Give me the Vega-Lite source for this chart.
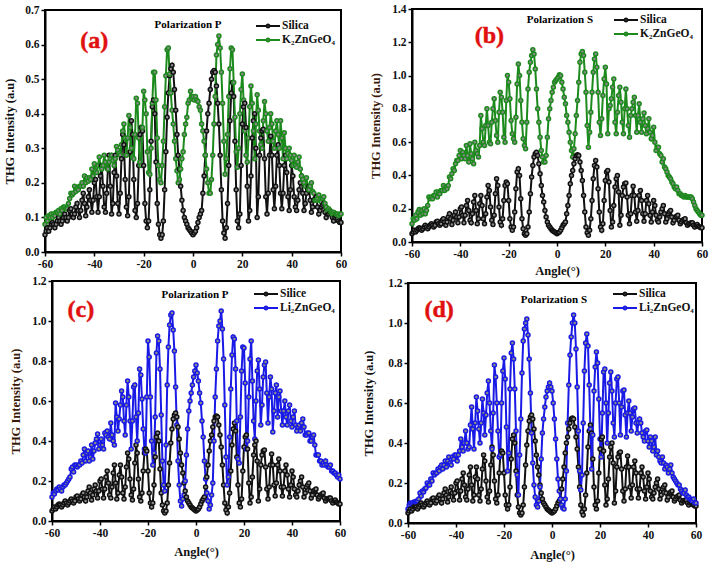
{"$schema":"https://vega.github.io/schema/vega-lite/v6.json","padding":0,"autosize":{"type":"pad"},"background":"white",
"config":{"font":"Liberation Serif","view":{"stroke":"black","strokeWidth":2},"axis":{"grid":false,"domainColor":"black","domainWidth":2,"tickColor":"black","tickWidth":1.5,"tickSize":4,"labelFont":"Liberation Serif","labelFontWeight":"bold","labelFontSize":11.5,"labelColor":"#111","titleFont":"Liberation Serif","titleFontWeight":"bold","titleFontSize":12.5,"titleColor":"#111","labelFlush":false,"labelOverlap":false},"legend":{"orient":"none","title":null,"padding":0,"labelFont":"Liberation Serif","labelFontWeight":"bold","labelFontSize":11.5,"labelColor":"#111","labelOffset":7,"symbolSize":144,"symbolStrokeWidth":2,"rowPadding":1,"symbolType":"M-2,0H-0.3M0.3,0H2M0.25,0A0.25,0.25,0,1,1,-0.25,0A0.25,0.25,0,1,1,0.25,0Z"}},
"datasets":{"d":[
{"a":-60,"s":0.05,"kp":0.08,"ks":0.11,"lp":0.12,"ls":0.07},{"a":-59.5,"s":0.06,"kp":0.1,"ks":0.14,"lp":0.14,"ls":0.09},{"a":-59,"s":0.07,"kp":0.09,"ks":0.13,"lp":0.135,"ls":0.1},{"a":-58.5,"s":0.06,"kp":0.105,"ks":0.16,"lp":0.15,"ls":0.095},{"a":-58,"s":0.07,"kp":0.1,"ks":0.14,"lp":0.16,"ls":0.1},{"a":-57.5,"s":0.08,"kp":0.11,"ks":0.18,"lp":0.155,"ls":0.105},{"a":-57,"s":0.085,"kp":0.1,"ks":0.195,"lp":0.17,"ls":0.105},{"a":-56.5,"s":0.08,"kp":0.11,"ks":0.16,"lp":0.16,"ls":0.11},{"a":-56,"s":0.07,"kp":0.105,"ks":0.19,"lp":0.15,"ls":0.11},{"a":-55.5,"s":0.08,"kp":0.115,"ks":0.17,"lp":0.17,"ls":0.12},
{"a":-55,"s":0.09,"kp":0.115,"ks":0.2,"lp":0.18,"ls":0.15},{"a":-54.5,"s":0.1,"kp":0.12,"ks":0.17,"lp":0.18,"ls":0.135},{"a":-54,"s":0.09,"kp":0.11,"ks":0.19,"lp":0.19,"ls":0.16},{"a":-53.5,"s":0.08,"kp":0.125,"ks":0.22,"lp":0.2,"ls":0.155},{"a":-53,"s":0.09,"kp":0.12,"ks":0.27,"lp":0.21,"ls":0.17},{"a":-52.5,"s":0.1,"kp":0.13,"ks":0.26,"lp":0.22,"ls":0.175},{"a":-52,"s":0.11,"kp":0.13,"ks":0.27,"lp":0.26,"ls":0.2},{"a":-51.5,"s":0.1,"kp":0.125,"ks":0.26,"lp":0.27,"ls":0.19},{"a":-51,"s":0.09,"kp":0.125,"ks":0.28,"lp":0.245,"ls":0.19},{"a":-50.5,"s":0.1,"kp":0.14,"ks":0.28,"lp":0.28,"ls":0.22},
{"a":-50,"s":0.12,"kp":0.155,"ks":0.3,"lp":0.28,"ls":0.21},{"a":-49.5,"s":0.125,"kp":0.17,"ks":0.27,"lp":0.27,"ls":0.25},{"a":-49,"s":0.11,"kp":0.165,"ks":0.3,"lp":0.28,"ls":0.24},{"a":-48.5,"s":0.1,"kp":0.17,"ks":0.29,"lp":0.28,"ls":0.25},{"a":-48,"s":0.11,"kp":0.19,"ks":0.31,"lp":0.3,"ls":0.25},{"a":-47.5,"s":0.13,"kp":0.175,"ks":0.31,"lp":0.29,"ls":0.27},{"a":-47,"s":0.14,"kp":0.185,"ks":0.34,"lp":0.33,"ls":0.26},{"a":-46.5,"s":0.12,"kp":0.18,"ks":0.31,"lp":0.36,"ls":0.28},{"a":-46,"s":0.1,"kp":0.19,"ks":0.33,"lp":0.3,"ls":0.29},{"a":-45.5,"s":0.12,"kp":0.19,"ks":0.32,"lp":0.34,"ls":0.27},
{"a":-45,"s":0.15,"kp":0.2,"ks":0.34,"lp":0.35,"ls":0.29},{"a":-44.5,"s":0.17,"kp":0.19,"ks":0.39,"lp":0.3,"ls":0.31},{"a":-44,"s":0.14,"kp":0.22,"ks":0.38,"lp":0.32,"ls":0.28},{"a":-43.5,"s":0.105,"kp":0.2,"ks":0.41,"lp":0.38,"ls":0.31},{"a":-43,"s":0.13,"kp":0.215,"ks":0.44,"lp":0.31,"ls":0.33},{"a":-42.5,"s":0.16,"kp":0.205,"ks":0.43,"lp":0.35,"ls":0.3},{"a":-42,"s":0.18,"kp":0.215,"ks":0.47,"lp":0.39,"ls":0.29},{"a":-41.5,"s":0.15,"kp":0.21,"ks":0.49,"lp":0.41,"ls":0.33},{"a":-41,"s":0.115,"kp":0.24,"ks":0.49,"lp":0.435,"ls":0.32},{"a":-40.5,"s":0.15,"kp":0.22,"ks":0.52,"lp":0.36,"ls":0.34},
{"a":-40,"s":0.2,"kp":0.255,"ks":0.55,"lp":0.38,"ls":0.34},{"a":-39.5,"s":0.21,"kp":0.235,"ks":0.5,"lp":0.41,"ls":0.31},{"a":-39,"s":0.16,"kp":0.23,"ks":0.54,"lp":0.38,"ls":0.34},{"a":-38.5,"s":0.115,"kp":0.25,"ks":0.52,"lp":0.36,"ls":0.36},{"a":-38,"s":0.16,"kp":0.275,"ks":0.5,"lp":0.44,"ls":0.42},{"a":-37.5,"s":0.22,"kp":0.25,"ks":0.58,"lp":0.43,"ls":0.38},{"a":-37,"s":0.25,"kp":0.24,"ks":0.52,"lp":0.45,"ls":0.36},{"a":-36.5,"s":0.19,"kp":0.25,"ks":0.48,"lp":0.42,"ls":0.4},{"a":-36,"s":0.13,"kp":0.28,"ks":0.59,"lp":0.41,"ls":0.46},{"a":-35.5,"s":0.115,"kp":0.26,"ks":0.53,"lp":0.49,"ls":0.4},
{"a":-35,"s":0.17,"kp":0.245,"ks":0.5,"lp":0.43,"ls":0.37},{"a":-34.5,"s":0.24,"kp":0.24,"ks":0.47,"lp":0.4,"ls":0.38},{"a":-34,"s":0.28,"kp":0.26,"ks":0.6,"lp":0.38,"ls":0.49},{"a":-33.5,"s":0.19,"kp":0.27,"ks":0.55,"lp":0.59,"ls":0.58},{"a":-33,"s":0.11,"kp":0.28,"ks":0.53,"lp":0.52,"ls":0.47},{"a":-32.5,"s":0.14,"kp":0.265,"ks":0.51,"lp":0.45,"ls":0.37},{"a":-32,"s":0.23,"kp":0.25,"ks":0.58,"lp":0.51,"ls":0.5},{"a":-31.5,"s":0.28,"kp":0.27,"ks":0.76,"lp":0.58,"ls":0.63},{"a":-31,"s":0.22,"kp":0.305,"ks":0.68,"lp":0.65,"ls":0.56},{"a":-30.5,"s":0.14,"kp":0.295,"ks":0.6,"lp":0.62,"ls":0.47},
{"a":-30,"s":0.11,"kp":0.285,"ks":0.58,"lp":0.5,"ls":0.4},{"a":-29.5,"s":0.17,"kp":0.28,"ks":0.7,"lp":0.43,"ls":0.5},{"a":-29,"s":0.27,"kp":0.31,"ks":0.8,"lp":0.58,"ls":0.62},{"a":-28.5,"s":0.34,"kp":0.35,"ks":0.7,"lp":0.7,"ls":0.55},{"a":-28,"s":0.31,"kp":0.37,"ks":0.6,"lp":0.62,"ls":0.44},{"a":-27.5,"s":0.21,"kp":0.33,"ks":0.59,"lp":0.5,"ls":0.54},{"a":-27,"s":0.13,"kp":0.28,"ks":0.72,"lp":0.36,"ls":0.65},{"a":-26.5,"s":0.105,"kp":0.33,"ks":0.8,"lp":0.5,"ls":0.71},{"a":-26,"s":0.16,"kp":0.395,"ks":0.86,"lp":0.67,"ls":0.6},{"a":-25.5,"s":0.29,"kp":0.36,"ks":0.73,"lp":0.68,"ls":0.46},
{"a":-25,"s":0.38,"kp":0.3,"ks":0.64,"lp":0.52,"ls":0.37},{"a":-24.5,"s":0.34,"kp":0.275,"ks":0.6,"lp":0.4,"ls":0.55},{"a":-24,"s":0.21,"kp":0.27,"ks":0.78,"lp":0.54,"ls":0.79},{"a":-23.5,"s":0.12,"kp":0.34,"ks":0.9,"lp":0.76,"ls":0.73},{"a":-23,"s":0.1,"kp":0.445,"ks":0.87,"lp":0.73,"ls":0.6},{"a":-22.5,"s":0.14,"kp":0.43,"ks":0.78,"lp":0.61,"ls":0.46},{"a":-22,"s":0.25,"kp":0.33,"ks":0.63,"lp":0.46,"ls":0.33},{"a":-21.5,"s":0.34,"kp":0.26,"ks":0.6,"lp":0.36,"ls":0.34},{"a":-21,"s":0.36,"kp":0.25,"ks":0.85,"lp":0.34,"ls":0.6},{"a":-20.5,"s":0.35,"kp":0.36,"ks":1.0,"lp":0.62,"ls":0.76},
{"a":-20,"s":0.25,"kp":0.465,"ks":0.96,"lp":0.9,"ls":0.825},{"a":-19.5,"s":0.14,"kp":0.44,"ks":0.86,"lp":0.82,"ls":0.72},{"a":-19,"s":0.09,"kp":0.4,"ks":0.73,"lp":0.62,"ls":0.48},{"a":-18.5,"s":0.07,"kp":0.29,"ks":0.65,"lp":0.4,"ls":0.26},{"a":-18,"s":0.09,"kp":0.23,"ks":0.62,"lp":0.28,"ls":0.35},{"a":-17.5,"s":0.18,"kp":0.225,"ks":0.6,"lp":0.34,"ls":0.67},{"a":-17,"s":0.32,"kp":0.3,"ks":0.75,"lp":0.52,"ls":0.85},{"a":-16.5,"s":0.42,"kp":0.43,"ks":0.95,"lp":0.84,"ls":0.9},{"a":-16,"s":0.44,"kp":0.52,"ks":1.07,"lp":0.925,"ls":0.82},{"a":-15.5,"s":0.4,"kp":0.52,"ks":1.0,"lp":0.9,"ls":0.67},
{"a":-15,"s":0.26,"kp":0.44,"ks":0.85,"lp":0.76,"ls":0.46},{"a":-14.5,"s":0.14,"kp":0.33,"ks":0.72,"lp":0.53,"ls":0.24},{"a":-14,"s":0.08,"kp":0.25,"ks":0.62,"lp":0.3,"ls":0.14},{"a":-13.5,"s":0.05,"kp":0.21,"ks":0.58,"lp":0.18,"ls":0.34},{"a":-13,"s":0.04,"kp":0.2,"ks":0.56,"lp":0.15,"ls":0.52},{"a":-12.5,"s":0.05,"kp":0.25,"ks":0.72,"lp":0.38,"ls":0.75},{"a":-12,"s":0.09,"kp":0.32,"ks":0.92,"lp":0.68,"ls":0.91},{"a":-11.5,"s":0.18,"kp":0.42,"ks":1.02,"lp":0.87,"ls":0.97},{"a":-11,"s":0.29,"kp":0.51,"ks":1.08,"lp":0.98,"ls":1.0},{"a":-10.5,"s":0.39,"kp":0.585,"ks":1.12,"lp":1.03,"ls":1.02},
{"a":-10,"s":0.46,"kp":0.59,"ks":1.155,"lp":1.04,"ls":0.94},{"a":-9.5,"s":0.51,"kp":0.515,"ks":1.13,"lp":0.955,"ls":0.82},{"a":-9,"s":0.53,"kp":0.46,"ks":1.04,"lp":0.85,"ls":0.65},{"a":-8.5,"s":0.54,"kp":0.41,"ks":0.92,"lp":0.67,"ls":0.45},{"a":-8,"s":0.52,"kp":0.37,"ks":0.8,"lp":0.48,"ls":0.3},{"a":-7.5,"s":0.47,"kp":0.32,"ks":0.72,"lp":0.3,"ls":0.19},{"a":-7,"s":0.41,"kp":0.27,"ks":0.63,"lp":0.18,"ls":0.13},{"a":-6.5,"s":0.34,"kp":0.235,"ks":0.55,"lp":0.1,"ls":0.09},{"a":-6,"s":0.28,"kp":0.2,"ks":0.51,"lp":0.075,"ls":0.08},{"a":-5.5,"s":0.24,"kp":0.21,"ks":0.48,"lp":0.11,"ls":0.11},
{"a":-5,"s":0.19,"kp":0.24,"ks":0.48,"lp":0.13,"ls":0.18},{"a":-4.5,"s":0.15,"kp":0.27,"ks":0.52,"lp":0.2,"ls":0.32},{"a":-4,"s":0.12,"kp":0.29,"ks":0.63,"lp":0.33,"ls":0.45},{"a":-3.5,"s":0.1,"kp":0.34,"ks":0.74,"lp":0.46,"ls":0.52},{"a":-3,"s":0.09,"kp":0.37,"ks":0.8,"lp":0.55,"ls":0.58},{"a":-2.5,"s":0.08,"kp":0.39,"ks":0.85,"lp":0.6,"ls":0.63},{"a":-2,"s":0.07,"kp":0.43,"ks":0.9,"lp":0.64,"ls":0.66},{"a":-1.5,"s":0.065,"kp":0.44,"ks":0.93,"lp":0.68,"ls":0.68},{"a":-1,"s":0.06,"kp":0.465,"ks":0.96,"lp":0.72,"ls":0.7},{"a":-0.5,"s":0.055,"kp":0.445,"ks":0.97,"lp":0.75,"ls":0.68},
{"a":0,"s":0.05,"kp":0.45,"ks":0.98,"lp":0.78,"ls":0.66},{"a":0.5,"s":0.055,"kp":0.44,"ks":0.99,"lp":0.74,"ls":0.6},{"a":1,"s":0.06,"kp":0.45,"ks":1.005,"lp":0.7,"ls":0.52},{"a":1.5,"s":0.07,"kp":0.44,"ks":1.0,"lp":0.64,"ls":0.42},{"a":2,"s":0.085,"kp":0.435,"ks":0.96,"lp":0.59,"ls":0.32},{"a":2.5,"s":0.1,"kp":0.42,"ks":0.92,"lp":0.5,"ls":0.22},{"a":3,"s":0.11,"kp":0.41,"ks":0.87,"lp":0.42,"ls":0.16},{"a":3.5,"s":0.12,"kp":0.37,"ks":0.83,"lp":0.3,"ls":0.12},{"a":4,"s":0.17,"kp":0.35,"ks":0.76,"lp":0.21,"ls":0.09},{"a":4.5,"s":0.22,"kp":0.32,"ks":0.72,"lp":0.14,"ls":0.075},
{"a":5,"s":0.28,"kp":0.28,"ks":0.66,"lp":0.1,"ls":0.07},{"a":5.5,"s":0.35,"kp":0.24,"ks":0.6,"lp":0.06,"ls":0.12},{"a":6,"s":0.4,"kp":0.2,"ks":0.55,"lp":0.08,"ls":0.26},{"a":6.5,"s":0.43,"kp":0.17,"ks":0.51,"lp":0.13,"ls":0.5},{"a":7,"s":0.47,"kp":0.17,"ks":0.56,"lp":0.19,"ls":0.69},{"a":7.5,"s":0.5,"kp":0.21,"ks":0.65,"lp":0.4,"ls":0.84},{"a":8,"s":0.52,"kp":0.28,"ks":0.76,"lp":0.62,"ls":0.93},{"a":8.5,"s":0.525,"kp":0.37,"ks":0.85,"lp":0.76,"ls":1.0},{"a":9,"s":0.52,"kp":0.45,"ks":0.96,"lp":0.9,"ls":1.04},{"a":9.5,"s":0.48,"kp":0.57,"ks":1.08,"lp":0.975,"ls":1.0},
{"a":10,"s":0.43,"kp":0.6,"ks":1.13,"lp":1.0,"ls":0.87},{"a":10.5,"s":0.37,"kp":0.625,"ks":1.145,"lp":1.05,"ls":0.68},{"a":11,"s":0.28,"kp":0.59,"ks":1.12,"lp":0.96,"ls":0.46},{"a":11.5,"s":0.18,"kp":0.52,"ks":1.02,"lp":0.81,"ls":0.26},{"a":12,"s":0.09,"kp":0.43,"ks":0.9,"lp":0.58,"ls":0.165},{"a":12.5,"s":0.055,"kp":0.32,"ks":0.7,"lp":0.32,"ls":0.24},{"a":13,"s":0.04,"kp":0.225,"ks":0.57,"lp":0.18,"ls":0.5},{"a":13.5,"s":0.07,"kp":0.27,"ks":0.66,"lp":0.22,"ls":0.76},{"a":14,"s":0.14,"kp":0.34,"ks":0.78,"lp":0.42,"ls":0.9},{"a":14.5,"s":0.25,"kp":0.45,"ks":0.9,"lp":0.66,"ls":0.945},
{"a":15,"s":0.38,"kp":0.53,"ks":1.02,"lp":0.83,"ls":0.885},{"a":15.5,"s":0.46,"kp":0.59,"ks":1.1,"lp":0.92,"ls":0.69},{"a":16,"s":0.49,"kp":0.585,"ks":1.13,"lp":0.91,"ls":0.47},{"a":16.5,"s":0.45,"kp":0.49,"ks":1.05,"lp":0.76,"ls":0.27},{"a":17,"s":0.32,"kp":0.39,"ks":0.9,"lp":0.5,"ls":0.44},{"a":17.5,"s":0.18,"kp":0.29,"ks":0.72,"lp":0.31,"ls":0.66},{"a":18,"s":0.09,"kp":0.245,"ks":0.64,"lp":0.29,"ls":0.78},{"a":18.5,"s":0.07,"kp":0.3,"ks":0.74,"lp":0.52,"ls":0.855},{"a":19,"s":0.11,"kp":0.4,"ks":0.88,"lp":0.75,"ls":0.8},{"a":19.5,"s":0.25,"kp":0.47,"ks":0.98,"lp":0.87,"ls":0.62},
{"a":20,"s":0.37,"kp":0.515,"ks":1.05,"lp":0.865,"ls":0.42},{"a":20.5,"s":0.42,"kp":0.44,"ks":0.95,"lp":0.69,"ls":0.33},{"a":21,"s":0.43,"kp":0.35,"ks":0.65,"lp":0.36,"ls":0.55},{"a":21.5,"s":0.36,"kp":0.28,"ks":0.8,"lp":0.4,"ls":0.755},{"a":22,"s":0.19,"kp":0.26,"ks":0.82,"lp":0.62,"ls":0.77},{"a":22.5,"s":0.09,"kp":0.33,"ks":0.86,"lp":0.81,"ls":0.6},{"a":23,"s":0.12,"kp":0.42,"ks":0.93,"lp":0.9,"ls":0.4},{"a":23.5,"s":0.22,"kp":0.48,"ks":0.98,"lp":0.7,"ls":0.55},{"a":24,"s":0.33,"kp":0.43,"ks":0.72,"lp":0.5,"ls":0.7},{"a":24.5,"s":0.38,"kp":0.35,"ks":0.65,"lp":0.41,"ls":0.755},
{"a":25,"s":0.4,"kp":0.27,"ks":0.78,"lp":0.6,"ls":0.66},{"a":25.5,"s":0.3,"kp":0.37,"ks":0.88,"lp":0.75,"ls":0.5},{"a":26,"s":0.1,"kp":0.455,"ks":0.93,"lp":0.805,"ls":0.43},{"a":26.5,"s":0.16,"kp":0.41,"ks":0.84,"lp":0.66,"ls":0.6},{"a":27,"s":0.28,"kp":0.35,"ks":0.72,"lp":0.48,"ls":0.72},{"a":27.5,"s":0.33,"kp":0.31,"ks":0.65,"lp":0.58,"ls":0.73},{"a":28,"s":0.35,"kp":0.3,"ks":0.8,"lp":0.72,"ls":0.6},{"a":28.5,"s":0.355,"kp":0.38,"ks":0.92,"lp":0.78,"ls":0.44},{"a":29,"s":0.27,"kp":0.435,"ks":0.8,"lp":0.795,"ls":0.58},{"a":29.5,"s":0.16,"kp":0.4,"ks":0.7,"lp":0.64,"ls":0.66},
{"a":30,"s":0.11,"kp":0.35,"ks":0.63,"lp":0.49,"ls":0.665},{"a":30.5,"s":0.17,"kp":0.32,"ks":0.76,"lp":0.62,"ls":0.54},{"a":31,"s":0.28,"kp":0.36,"ks":0.8,"lp":0.72,"ls":0.43},{"a":31.5,"s":0.335,"kp":0.4,"ks":0.84,"lp":0.66,"ls":0.55},{"a":32,"s":0.28,"kp":0.37,"ks":0.87,"lp":0.445,"ls":0.61},{"a":32.5,"s":0.18,"kp":0.32,"ks":0.76,"lp":0.55,"ls":0.55},{"a":33,"s":0.125,"kp":0.3,"ks":0.66,"lp":0.64,"ls":0.46},{"a":33.5,"s":0.19,"kp":0.35,"ks":0.76,"lp":0.68,"ls":0.53},{"a":34,"s":0.28,"kp":0.38,"ks":0.83,"lp":0.52,"ls":0.57},{"a":34.5,"s":0.31,"kp":0.34,"ks":0.72,"lp":0.62,"ls":0.575},
{"a":35,"s":0.25,"kp":0.3,"ks":0.66,"lp":0.65,"ls":0.5},{"a":35.5,"s":0.17,"kp":0.38,"ks":0.74,"lp":0.55,"ls":0.45},{"a":36,"s":0.125,"kp":0.33,"ks":0.775,"lp":0.48,"ls":0.5},{"a":36.5,"s":0.17,"kp":0.27,"ks":0.7,"lp":0.55,"ls":0.52},{"a":37,"s":0.25,"kp":0.345,"ks":0.65,"lp":0.6,"ls":0.5},{"a":37.5,"s":0.28,"kp":0.3,"ks":0.68,"lp":0.52,"ls":0.45},{"a":38,"s":0.23,"kp":0.27,"ks":0.74,"lp":0.48,"ls":0.43},{"a":38.5,"s":0.16,"kp":0.285,"ks":0.66,"lp":0.55,"ls":0.41},{"a":39,"s":0.12,"kp":0.3,"ks":0.62,"lp":0.58,"ls":0.46},{"a":39.5,"s":0.18,"kp":0.28,"ks":0.64,"lp":0.5,"ls":0.465},
{"a":40,"s":0.25,"kp":0.265,"ks":0.69,"lp":0.47,"ls":0.41},{"a":40.5,"s":0.22,"kp":0.25,"ks":0.6,"lp":0.52,"ls":0.38},{"a":41,"s":0.16,"kp":0.28,"ks":0.55,"lp":0.55,"ls":0.43},{"a":41.5,"s":0.13,"kp":0.25,"ks":0.57,"lp":0.48,"ls":0.41},{"a":42,"s":0.12,"kp":0.245,"ks":0.57,"lp":0.45,"ls":0.36},{"a":42.5,"s":0.15,"kp":0.26,"ks":0.53,"lp":0.47,"ls":0.38},{"a":43,"s":0.18,"kp":0.275,"ks":0.52,"lp":0.48,"ls":0.43},{"a":43.5,"s":0.2,"kp":0.24,"ks":0.48,"lp":0.45,"ls":0.34},{"a":44,"s":0.22,"kp":0.22,"ks":0.5,"lp":0.49,"ls":0.36},{"a":44.5,"s":0.17,"kp":0.21,"ks":0.45,"lp":0.51,"ls":0.33},
{"a":45,"s":0.12,"kp":0.2,"ks":0.44,"lp":0.47,"ls":0.31},{"a":45.5,"s":0.14,"kp":0.19,"ks":0.42,"lp":0.43,"ls":0.3},{"a":46,"s":0.17,"kp":0.215,"ks":0.4,"lp":0.43,"ls":0.33},{"a":46.5,"s":0.18,"kp":0.19,"ks":0.39,"lp":0.44,"ls":0.3},{"a":47,"s":0.19,"kp":0.18,"ks":0.38,"lp":0.44,"ls":0.27},{"a":47.5,"s":0.15,"kp":0.19,"ks":0.36,"lp":0.4,"ls":0.29},{"a":48,"s":0.115,"kp":0.2,"ks":0.35,"lp":0.4,"ls":0.28},{"a":48.5,"s":0.13,"kp":0.175,"ks":0.33,"lp":0.42,"ls":0.25},{"a":49,"s":0.15,"kp":0.17,"ks":0.32,"lp":0.43,"ls":0.27},{"a":49.5,"s":0.155,"kp":0.15,"ks":0.33,"lp":0.38,"ls":0.29},
{"a":50,"s":0.16,"kp":0.15,"ks":0.31,"lp":0.33,"ls":0.25},{"a":50.5,"s":0.13,"kp":0.155,"ks":0.29,"lp":0.33,"ls":0.23},{"a":51,"s":0.11,"kp":0.165,"ks":0.29,"lp":0.33,"ls":0.22},{"a":51.5,"s":0.12,"kp":0.15,"ks":0.28,"lp":0.3,"ls":0.21},{"a":52,"s":0.13,"kp":0.145,"ks":0.28,"lp":0.3,"ls":0.2},{"a":52.5,"s":0.135,"kp":0.155,"ks":0.27,"lp":0.28,"ls":0.19},{"a":53,"s":0.14,"kp":0.16,"ks":0.28,"lp":0.29,"ls":0.19},{"a":53.5,"s":0.115,"kp":0.14,"ks":0.27,"lp":0.28,"ls":0.17},{"a":54,"s":0.1,"kp":0.13,"ks":0.27,"lp":0.3,"ls":0.16},{"a":54.5,"s":0.11,"kp":0.12,"ks":0.27,"lp":0.28,"ls":0.15},
{"a":55,"s":0.11,"kp":0.125,"ks":0.27,"lp":0.27,"ls":0.15},{"a":55.5,"s":0.115,"kp":0.12,"ks":0.27,"lp":0.27,"ls":0.165},{"a":56,"s":0.115,"kp":0.115,"ks":0.26,"lp":0.28,"ls":0.14},{"a":56.5,"s":0.1,"kp":0.11,"ks":0.24,"lp":0.25,"ls":0.13},{"a":57,"s":0.09,"kp":0.115,"ks":0.22,"lp":0.25,"ls":0.13},{"a":57.5,"s":0.1,"kp":0.11,"ks":0.2,"lp":0.24,"ls":0.12},{"a":58,"s":0.105,"kp":0.11,"ks":0.19,"lp":0.24,"ls":0.115},{"a":58.5,"s":0.095,"kp":0.11,"ks":0.18,"lp":0.23,"ls":0.11},{"a":59,"s":0.09,"kp":0.105,"ks":0.17,"lp":0.22,"ls":0.12},{"a":59.5,"s":0.085,"kp":0.11,"ks":0.16,"lp":0.23,"ls":0.1},
{"a":60,"s":0.085,"kp":0.11,"ks":0.16,"lp":0.21,"ls":0.1}],
"sp":[{}]},
"resolve":{"scale":{"color":"independent"}},
"hconcat":[{"resolve":{"scale":{"color":"independent"}},"spacing":3,"vconcat":[
{"spacing":0,"hconcat":[{"data":{"name":"sp"},"width":1,"height":1,"view":{"stroke":null},"mark":{"type":"rule","opacity":0},"encoding":{}},{"spacing":0,"vconcat":[{"data":{"name":"sp"},"width":1,"height":2,"view":{"stroke":null},"mark":{"type":"rule","opacity":0},"encoding":{}},
{"width":296,"height":242,"layer":[{"data":{"name":"d"},"transform":[{"fold":["s","kp"]},{"calculate":"datum.key=='s'?'Silica':'K₂ZnGeO₄'","as":"n"}],"mark":{"type":"line","strokeWidth":2,"point":{"filled":false,"fill":"#8a8a8a","size":16,"strokeWidth":1.5}},"encoding":{"x":{"field":"a","type":"quantitative","title":null,"scale":{"domain":[-60,60]},"axis":{"values":[-60,-40,-20,0,20,40,60],"labelExpr":"''+datum.value"}},"y":{"field":"value","type":"quantitative","title":"THG Intensity (a.u)","scale":{"domain":[0,0.7]},"axis":{"values":[0,0.1,0.2,0.3,0.4,0.5,0.6,0.7],"labelExpr":"format(datum.value,'.1f')","tickCount":8,"titlePadding":8,"labelOverlap":false,"labelBound":false}},"color":{"field":"n","type":"nominal","sort":["Silica","K₂ZnGeO₄"],"scale":{"domain":["Silica","K₂ZnGeO₄"],"range":["#111111","#1c8a1c"]},"legend":{"legendX":260,"legendY":18}}}},
{"data":{"name":"sp"},"mark":{"type":"text","fontWeight":"bold","fontSize":11},"encoding":{"x":{"datum":-2},"y":{"datum":0.657},"text":{"value":"Polarization P"}}},
{"data":{"name":"sp"},"mark":{"type":"text","fontWeight":"bold","fontSize":24,"color":"#e01010","stroke":"#e01010","strokeWidth":0.5},"encoding":{"x":{"datum":-40},"y":{"datum":0.61},"text":{"value":"(a)"}}}]}]}]},
{"spacing":0,"hconcat":[{"data":{"name":"sp"},"width":7,"height":1,"view":{"stroke":null},"mark":{"type":"rule","opacity":0},"encoding":{}},
{"width":288,"height":240,"layer":[{"data":{"name":"d"},"transform":[{"fold":["s","lp"]},{"calculate":"datum.key=='s'?'Silice':'Li₂ZnGeO₄'","as":"n"}],"mark":{"type":"line","strokeWidth":2,"point":{"filled":false,"fill":"#8a8a8a","size":16,"strokeWidth":1.5}},"encoding":{"x":{"field":"a","type":"quantitative","title":"Angle(°)","scale":{"domain":[-60,60]},"axis":{"values":[-60,-40,-20,0,20,40,60],"labelExpr":"''+datum.value","titlePadding":7}},"y":{"field":"value","type":"quantitative","title":"THG Intensity (a.u)","scale":{"domain":[0,1.2]},"axis":{"values":[0,0.2,0.4,0.6,0.8,1.0,1.2],"labelExpr":"format(datum.value,'.1f')","tickCount":7,"titlePadding":9,"titleColor":"#3a1808","labelOverlap":false,"labelBound":false}},"color":{"field":"n","type":"nominal","scale":{"domain":["Silice","Li₂ZnGeO₄"],"range":["#111111","#1a1ae6"]},"legend":{"legendX":258,"legendY":6}}}},
{"data":{"name":"sp"},"mark":{"type":"text","fontWeight":"bold","fontSize":11},"encoding":{"x":{"datum":-0.4},"y":{"datum":1.13},"text":{"value":"Polarization P"}}},
{"data":{"name":"sp"},"mark":{"type":"text","fontWeight":"bold","fontSize":24,"color":"#e01010","stroke":"#e01010","strokeWidth":0.5},"encoding":{"x":{"datum":-48},"y":{"datum":1.055},"text":{"value":"(c)"}}}]}]}
]},
{"resolve":{"scale":{"color":"independent"}},"spacing":-2,"vconcat":[
{"spacing":0,"hconcat":[{"data":{"name":"sp"},"width":8,"height":1,"view":{"stroke":null},"mark":{"type":"rule","opacity":0},"encoding":{}},{"spacing":0,"vconcat":[{"data":{"name":"sp"},"width":1,"height":0.5,"view":{"stroke":null},"mark":{"type":"rule","opacity":0},"encoding":{}},
{"width":290,"height":233,"layer":[{"data":{"name":"d"},"transform":[{"fold":["s","ks"]},{"calculate":"datum.key=='s'?'Silica':'K₂ZnGeO₄'","as":"n"}],"mark":{"type":"line","strokeWidth":2,"point":{"filled":false,"fill":"#8a8a8a","size":16,"strokeWidth":1.5}},"encoding":{"x":{"field":"a","type":"quantitative","title":"Angle(°)","scale":{"domain":[-60,60]},"axis":{"values":[-60,-40,-20,0,20,40,60],"labelExpr":"''+datum.value","titlePadding":5}},"y":{"field":"value","type":"quantitative","title":"THG Intensity (a.u)","scale":{"domain":[0,1.4]},"axis":{"values":[0,0.2,0.4,0.6,0.8,1.0,1.2,1.4],"labelExpr":"format(datum.value,'.1f')","tickCount":8,"titlePadding":9,"titleColor":"#3a1808","labelOverlap":false,"labelBound":false}},"color":{"field":"n","type":"nominal","sort":["Silica","K₂ZnGeO₄"],"scale":{"domain":["Silica","K₂ZnGeO₄"],"range":["#111111","#1c8a1c"]},"legend":{"legendX":259,"legendY":12}}}},
{"data":{"name":"sp"},"mark":{"type":"text","fontWeight":"bold","fontSize":11},"encoding":{"x":{"datum":1.2},"y":{"datum":1.331},"text":{"value":"Polarization S"}}},
{"data":{"name":"sp"},"mark":{"type":"text","fontWeight":"bold","fontSize":24,"color":"#e01010","stroke":"#e01010","strokeWidth":0.5},"encoding":{"x":{"datum":-28},"y":{"datum":1.24},"text":{"value":"(b)"}}}]}]}]},
{"spacing":0,"hconcat":[{"data":{"name":"sp"},"width":1,"height":1,"view":{"stroke":null},"mark":{"type":"rule","opacity":0},"encoding":{}},
{"width":288,"height":240,"layer":[{"data":{"name":"d"},"transform":[{"fold":["s","ls"]},{"calculate":"datum.key=='s'?'Silica':'Li₂ZnGeO₄'","as":"n"}],"mark":{"type":"line","strokeWidth":2,"point":{"filled":false,"fill":"#8a8a8a","size":16,"strokeWidth":1.5}},"encoding":{"x":{"field":"a","type":"quantitative","title":"Angle(°)","scale":{"domain":[-60,60]},"axis":{"values":[-60,-40,-20,0,20,40,60],"labelExpr":"''+datum.value","titlePadding":8}},"y":{"field":"value","type":"quantitative","title":"THG Intensity (a.u)","scale":{"domain":[0,1.2]},"axis":{"values":[0,0.2,0.4,0.6,0.8,1.0,1.2],"labelExpr":"format(datum.value,'.1f')","tickCount":7,"titlePadding":12,"labelOverlap":false,"labelBound":false}},"color":{"field":"n","type":"nominal","scale":{"domain":["Silica","Li₂ZnGeO₄"],"range":["#111111","#1a1ae6"]},"legend":{"legendX":258,"legendY":4}}}},
{"data":{"name":"sp"},"mark":{"type":"text","fontWeight":"bold","fontSize":11},"encoding":{"x":{"datum":0.8},"y":{"datum":1.115},"text":{"value":"Polarization S"}}},
{"data":{"name":"sp"},"mark":{"type":"text","fontWeight":"bold","fontSize":24,"color":"#e01010","stroke":"#e01010","strokeWidth":0.5},"encoding":{"x":{"datum":-47},"y":{"datum":1.065},"text":{"value":"(d)"}}}]}]}
]}
],"spacing":11}
